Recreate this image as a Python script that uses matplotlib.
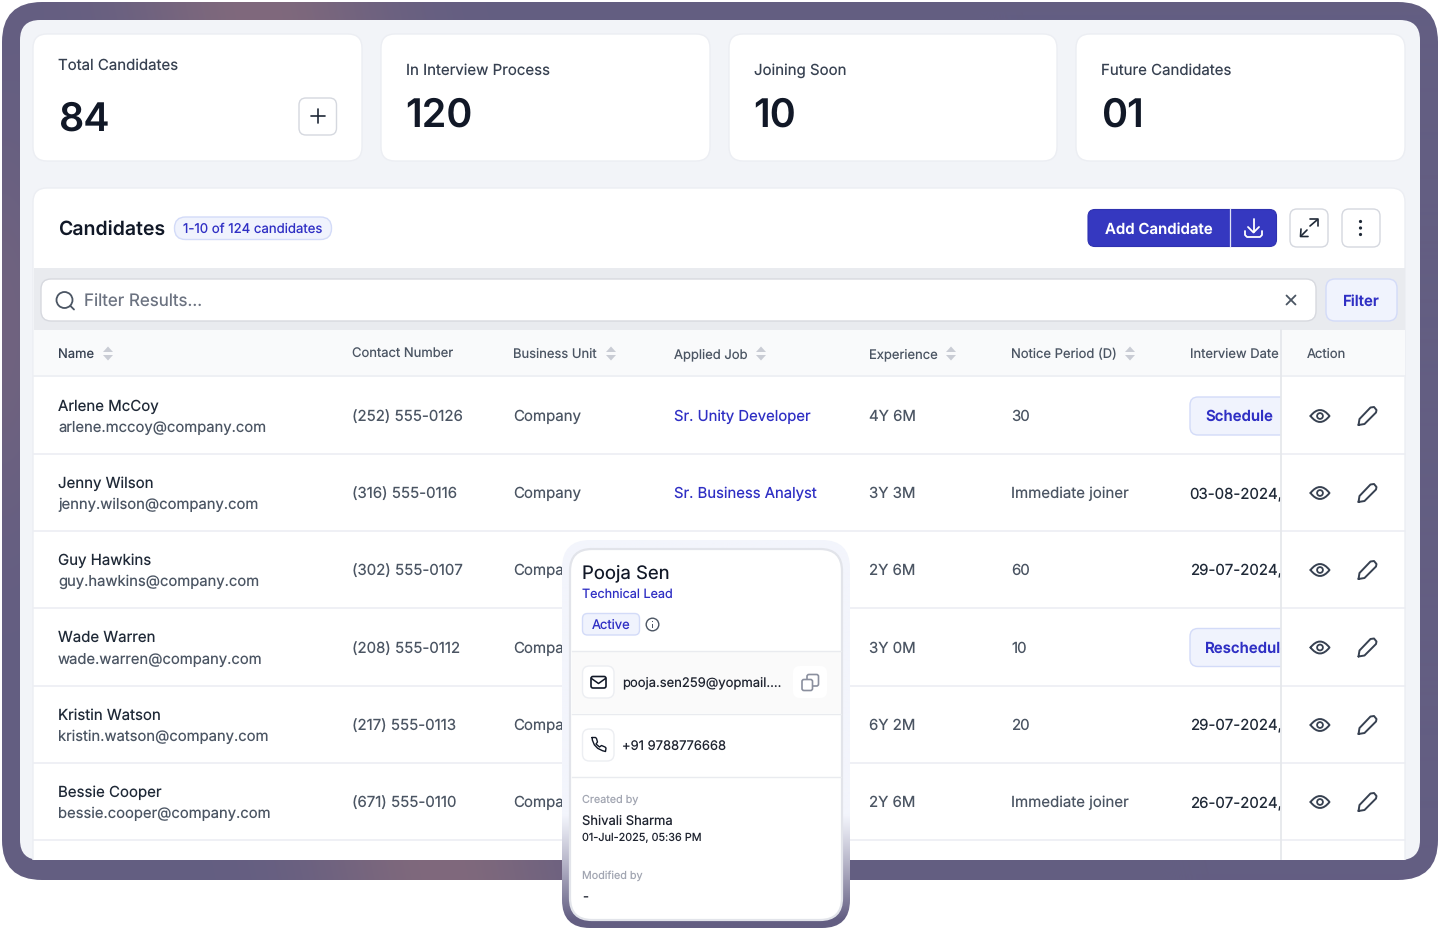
import numpy as np
import matplotlib
matplotlib.use("Agg")
import matplotlib.pyplot as plt
from matplotlib.patches import FancyBboxPatch, Circle, Polygon, PathPatch, Rectangle
from matplotlib.path import Path

plt.rcParams['font.family'] = ['Inter', 'DejaVu Sans']
plt.rcParams['text.hinting'] = 'no_hinting'
plt.rcParams['text.hinting_factor'] = 1

# ---------- content ----------
kpi_labels = ["Total Candidates", "In Interview Process", "Joining Soon", "Future Candidates"]
kpi_values = ["84", "120", "10", "01"]
header_labels = ["Name", "Contact Number", "Business Unit", "Applied Job", "Experience",
                 "Notice Period (D)", "Interview Date", "Action"]
names = ["Arlene McCoy", "Jenny Wilson", "Guy Hawkins", "Wade Warren", "Kristin Watson", "Bessie Cooper"]
emails = ["arlene.mccoy@company.com", "jenny.wilson@company.com", "guy.hawkins@company.com",
          "wade.warren@company.com", "kristin.watson@company.com", "bessie.cooper@company.com"]
phones = ["(252) 555-0126", "(316) 555-0116", "(302) 555-0107", "(208) 555-0112",
          "(217) 555-0113", "(671) 555-0110"]
units = ["Company", "Company", "Compa", "Compa", "Compa", "Compa"]
jobs = ["Sr. Unity Developer", "Sr. Business Analyst", "", "", "", ""]
experience = ["4Y 6M", "3Y 3M", "2Y 6M", "3Y 0M", "6Y 2M", "2Y 6M"]
notice = ["30", "Immediate joiner", "60", "10", "20", "Immediate joiner"]
interview = ["Schedule", "03-08-2024,", "29-07-2024,", "Reschedule", "29-07-2024,", "26-07-2024,"]

# ---------- colours ----------
INK = "#111827"; DARK = "#1f2937"; MID = "#4b5563"; BLUE = "#2f2fc4"; NAVY = "#3538c0"
LINE = "#eceef3"; ICON = "#374151"; PALE = "#f0f3fd"; PALE_EDGE = "#d3dbf8"

fig = plt.figure(figsize=(14.4, 9.3), dpi=100, facecolor="white")
ax = fig.add_axes([0, 0, 1, 1])
ax.set_xlim(0, 1440); ax.set_ylim(930, 0); ax.axis("off")


def px(v):
    return v * 0.72


def rr(x0, y0, x1, y1, r, fc="white", ec="none", lw=1.0, z=2, **kw):
    p = FancyBboxPatch((x0, y0), x1 - x0, y1 - y0, boxstyle=f"round,pad=0,rounding_size={r}",
                       fc=fc, ec=ec, lw=lw, zorder=z, **kw)
    ax.add_patch(p)
    return p


def tx(x, y, s, size=15, color=DARK, weight="normal", ha="left", z=5, clip=None, va="baseline"):
    t = ax.text(x, y, s, fontsize=px(size), color=color, fontweight=weight, ha=ha, va=va, zorder=z)
    if clip is not None:
        t.set_clip_on(True)
        t.set_clip_path(clip)
    return t


def stroke(points, color=ICON, lw=1.4, z=6, closed=False):
    pts = np.array(points, float)
    if closed:
        pts = np.vstack([pts, pts[:1]])
    ax.plot(pts[:, 0], pts[:, 1], color=color, lw=lw, zorder=z, solid_capstyle="round",
            solid_joinstyle="round")


def curve(verts, codes, color=ICON, lw=1.4, z=6, fc="none"):
    ax.add_patch(PathPatch(Path(verts, codes), fc=fc, ec=color, lw=lw, zorder=z,
                           capstyle="round", joinstyle="round"))


# ---------- gradient frame ----------
H, W = 930, 1440
yy, xx = np.mgrid[0:H, 0:W]
centre = 255 + yy / 880.0 * 190
band = np.exp(-((xx - centre) / 125.0) ** 2)
side = np.exp(-((yy - 330) / 190.0) ** 2) * np.exp(-(xx / 60.0) ** 2) * 0.45
mix = np.clip(band + side, 0, 1)[..., None]
c0 = np.array([0x63, 0x5e, 0x82]) / 255
c1 = np.array([0x80, 0x69, 0x7c]) / 255
grad = c0 * (1 - mix) + c1 * mix
frame = rr(2, 2, 1438, 880, 40, fc="none", z=1)
im = ax.imshow(grad, extent=(0, W, H, 0), zorder=1, aspect="auto", interpolation="bilinear")
im.set_clip_path(frame)
ax.set_xlim(0, 1440); ax.set_ylim(930, 0)

# ---------- panel ----------
rr(20, 20, 1420, 860, 20, fc="#f2f4f8", z=2)

# KPI cards
card_x = [(33, 362), (381, 710), (729, 1057), (1076, 1405)]
label_x = [58, 405.5, 753.5, 1101]
for i, (a, b) in enumerate(card_x):
    rr(a, 34, b, 161, 14, fc="white", ec="#eceef3", lw=1, z=3)
    ly, vy = (70, 131) if i == 0 else (75, 127)
    tx(label_x[i], ly, kpi_labels[i], 15, "#374151")
    tx(label_x[i], vy, kpi_values[i], 39.5, INK, "semibold")
rr(299, 98, 336.5, 135, 7, fc="white", ec="#d5d8df", lw=1, z=4)
stroke([(311, 116.5), (325, 116.5)], color=DARK, lw=1.2)
stroke([(318, 109.5), (318, 123.5)], color=DARK, lw=1.2)

# ---------- table card ----------
table_clip = rr(33, 188, 1405, 900, 14, fc="white", ec="#eceef3", lw=1, z=3)
tx(58, 236, "Candidates", 19.5, "#111827", "semibold")
rr(174.5, 217, 331.5, 239.5, 11, fc=PALE, ec=PALE_EDGE, lw=1, z=4)
tx(183, 233, "1-10 of 124 candidates", 13.2, BLUE)

# action buttons
rr(1088, 209.5, 1276.5, 246.5, 7, fc=NAVY, ec="#2f32b0", lw=0.8, z=4)
ax.plot([1229.5, 1229.5], [209.5, 246.5], color="#dfe2f5", lw=0.9, zorder=5)
tx(1158.5, 233.5, "Add Candidate", 15, "white", "semibold", ha="center")
stroke([(1253.5, 219), (1253.5, 232)], color="white", lw=1.3)
stroke([(1248, 227), (1253.5, 232.5), (1259, 227)], color="white", lw=1.3)
stroke([(1245, 231), (1245, 235), (1247, 237), (1260, 237), (1262, 235), (1262, 231)], color="white", lw=1.3)
rr(1290, 209, 1328, 247, 7, fc="white", ec="#d5d8df", lw=1, z=4)
stroke([(1310, 226), (1317, 220)], color=DARK, lw=1.2); stroke([(1310, 219.5), (1317.5, 219.5), (1317.5, 226)], color=DARK, lw=1.2)
stroke([(1301, 229), (1300.5, 236.5), (1308, 236.5)], color=DARK, lw=1.2)
stroke([(1301, 236), (1307, 230)], color=DARK, lw=1.2)
rr(1342, 209, 1380, 247, 7, fc="white", ec="#d5d8df", lw=1, z=4)
for yy_ in (221.5, 228, 234.5):
    ax.add_patch(Circle((1360.5, yy_), 1.6, fc=DARK, ec="none", zorder=6))

# filter band
ax.add_patch(Rectangle((33.5, 268), 1371, 62, fc="#e9ebef", ec="none", zorder=4))
rr(41, 279, 1316, 321, 10, fc="white", ec="#d7d9df", lw=1, z=5)
ax.add_patch(Circle((64.5, 300), 8, fc="none", ec=MID, lw=1.3, zorder=6))
stroke([(70.5, 306), (74, 309.5)], color=MID, lw=1.3)
tx(84, 306.6, "Filter Results...", 17, "#6b7280")
stroke([(1286.5, 295.5), (1295.5, 304.5)], color=MID, lw=1.3); stroke([(1295.5, 295.5), (1286.5, 304.5)], color=MID, lw=1.3)
rr(1326, 279, 1397, 321, 9, fc=PALE, ec=PALE_EDGE, lw=1, z=5)
tx(1361, 305.5, "Filter", 15, BLUE, "semibold", ha="center")

# table header
ax.add_patch(Rectangle((33.5, 330), 1371, 46.5, fc="#f9fafb", ec="none", zorder=4))
head_x = [58, 352, 513, 674, 869, 1011, 1190, 1307]
sort_x = [108, None, 611, 761, 951, 1130, None, None]
for hx, lab, sx in zip(head_x, header_labels, sort_x):
    tx(hx, 358, lab, 13, MID if lab != "Name" else "#374151")
    if sx is not None:
        ax.add_patch(Polygon([(sx - 5, 352), (sx + 5, 352), (sx, 346.5)], fc="#c9ccd4", ec="none", zorder=6))
        ax.add_patch(Polygon([(sx - 5, 355), (sx + 5, 355), (sx, 360.5)], fc="#c9ccd4", ec="none", zorder=6))

# table rows
row_top = [376.5, 454, 531, 608, 685.5, 763, 840]
for y in row_top:
    ax.plot([33.5, 1404.5], [y, y], color=LINE, lw=1.2, zorder=4)
clip_left = Rectangle((33, 330), 1247.5, 530, transform=ax.transData)
for i, yc in enumerate([416, 493, 570, 647.5, 725, 802]):
    tx(58, yc - 5.4, names[i], 15, DARK)
    tx(58, yc + 16, emails[i], 14.8, MID)
    base = yc + 5
    tx(352, base, phones[i], 15, MID)
    tx(513, base, units[i], 15, MID)
    if jobs[i]:
        tx(674, base, jobs[i], 14.85, BLUE)
    tx(869, base, experience[i], 15, MID)
    tx(1011, base, notice[i], 15, MID)
    if interview[i] in ("Schedule", "Reschedule"):
        b = rr(1190, yc - 19, 1300, yc + 19, 8, fc=PALE, ec=PALE_EDGE, lw=1, z=5)
        b.set_clip_path(clip_left)
        tx(1205, base, interview[i], 15, BLUE, "semibold", z=6, clip=clip_left)
    else:
        tx(1189.6, base, interview[i], 15, DARK, clip=clip_left)
    # eye
    ex = 1320
    curve([(ex - 9.5, yc), (ex, yc - 12), (ex + 9.5, yc), (ex, yc + 12), (ex - 9.5, yc)],
          [Path.MOVETO, Path.CURVE3, Path.CURVE3, Path.CURVE3, Path.CURVE3])
    ax.add_patch(Circle((ex, yc), 2.9, fc="none", ec=ICON, lw=1.3, zorder=6))
    # pencil
    px0 = 1358.5
    stroke([(px0, yc + 9), (px0 + 1, yc + 3), (px0 + 12, yc - 8.5), (px0 + 15.5, yc - 9),
            (px0 + 18, yc - 6), (px0 + 17.5, yc - 3.5), (px0 + 6, yc + 8)], closed=True)

# sticky column rule
ax.plot([1281, 1281], [330, 859], color="#e6e8ec", lw=1.3, zorder=7)

table_clip.set_clip_path(Rectangle((20, 20), 1400, 840, transform=ax.transData))

# ---------- popup ----------
shell = rr(562, 540, 850, 928, 28, fc="none", z=8)
sy = np.linspace(540, 928, 400)[:, None, None]
m = np.clip((sy - 815) / 105.0, 0, 1) ** 1.1
top_c = np.array([0xf3, 0xf5, 0xfc]) / 255
bot_c = np.array([0x63, 0x5e, 0x82]) / 255
sg = top_c[None, None, :] * (1 - m) + bot_c[None, None, :] * m
im2 = ax.imshow(sg, extent=(562, 850, 928, 540), zorder=8, aspect="auto")
im2.set_clip_path(shell)
ax.set_xlim(0, 1440); ax.set_ylim(930, 0)
rr(570, 549, 842, 920, 22, fc="white", ec="#e2e4ea", lw=1.6, z=9)
ax.add_patch(Rectangle((571.5, 651), 269, 62, fc="#fafafa", ec="none", zorder=9))
for y in (650.5, 713.5, 776.5):
    ax.plot([571.5, 840.5], [y, y], color="#e9ebef", lw=1, zorder=10)

tx(582, 577.8, "Pooja Sen", 18.5, "#111827", "normal", z=11)
tx(582, 597.5, "Technical Lead", 12.6, BLUE, z=11)
rr(582.5, 613.5, 639.5, 635, 5, fc=PALE, ec=PALE_EDGE, lw=1, z=10)
tx(592, 629, "Active", 13, BLUE, z=11)
ax.add_patch(Circle((652.5, 624.5), 6.3, fc="none", ec=MID, lw=1.0, zorder=11))
ax.add_patch(Rectangle((652, 623.5), 1, 4, fc=MID, ec="none", zorder=11))
ax.add_patch(Rectangle((652, 621), 1, 1, fc=MID, ec="none", zorder=11))

rr(582.5, 666, 614, 698, 7, fc="white", ec="#eceef2", lw=1, z=10)
rr(591, 676.5, 606, 688, 2, fc="none", ec=INK, lw=1.2, z=11)
stroke([(591.5, 678.5), (598.5, 683.5), (605.5, 678.5)], color=INK, lw=1.1, z=11)
tx(622.5, 686.5, "pooja.sen259@yopmail....", 13, "#1f2430", z=11)
rr(793, 666, 827, 698, 7, fc="white", ec="none", z=10)
rr(807, 674.5, 818.5, 686, 2, fc="none", ec="#8a8f9e", lw=1.2, z=11)
rr(802, 679.5, 812.5, 690.5, 2, fc="white", ec="#8a8f9e", lw=1.2, z=12)

rr(582.5, 729, 614, 761, 7, fc="white", ec="#eceef2", lw=1, z=10)
curve([(592, 737.5), (593, 749), (605.5, 751.5), (606, 748), (605, 747), (601.5, 745.5), (599.5, 747),
       (596, 744), (597.5, 742), (596.5, 738.5), (595.5, 737.5), (592, 737.5)],
      [Path.MOVETO, Path.CURVE3, Path.CURVE3, Path.LINETO, Path.LINETO, Path.LINETO, Path.LINETO,
       Path.LINETO, Path.LINETO, Path.LINETO, Path.LINETO, Path.LINETO], color=INK, lw=1.0, z=11)
tx(622.5, 750.5, "+91 9788776668", 13, "#1f2430", z=11)

tx(582.5, 803, "Created by", 10.8, "#a2a6b2", z=11)
tx(582.5, 825, "Shivali Sharma", 13, "#1f2430", z=11)
tx(582.5, 841, "01-Jul-2025, 05:36 PM", 10.9, "#1f2430", z=11)
tx(582.5, 879, "Modified by", 10.8, "#a2a6b2", z=11)
tx(582.5, 901.5, "-", 13, "#1f2430", z=11)

fig.savefig("out.png", dpi=100, facecolor="white")
